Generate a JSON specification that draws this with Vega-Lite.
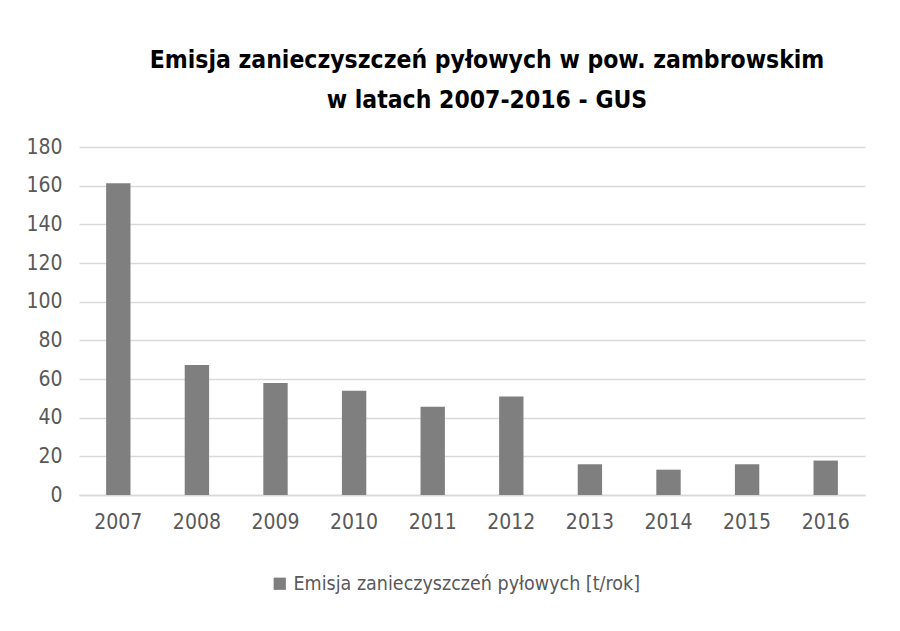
{
  "$schema": "https://vega.github.io/schema/vega-lite/v6.json",
  "autosize": {"type": "none"},
  "width": 786,
  "height": 348,
  "padding": {"left": 79, "top": 147, "right": 35, "bottom": 136},
  "background": "white",
  "title": {
    "text": ["Emisja zanieczyszczeń pyłowych w pow. zambrowskim", "w latach 2007-2016 - GUS"],
    "anchor": "middle",
    "font": "DejaVu Sans Condensed, sans-serif",
    "fontSize": 24.5,
    "fontWeight": "bold",
    "color": "#000000",
    "lineHeight": 40,
    "offset": 23,
    "dx": 15
  },
  "data": {
    "values": [
      {"year": "2007", "value": 161.2},
      {"year": "2008", "value": 67.2},
      {"year": "2009", "value": 57.9},
      {"year": "2010", "value": 53.9},
      {"year": "2011", "value": 45.7},
      {"year": "2012", "value": 50.9},
      {"year": "2013", "value": 15.9},
      {"year": "2014", "value": 13.1},
      {"year": "2015", "value": 15.9},
      {"year": "2016", "value": 17.8}
    ]
  },
  "mark": {"type": "bar"},
  "encoding": {
    "x": {
      "field": "year",
      "type": "ordinal",
      "scale": {"paddingInner": 0.69, "paddingOuter": 0.345},
      "axis": {
        "title": null,
        "labelAngle": 0,
        "ticks": false,
        "domain": true,
        "domainColor": "#d9d9d9",
        "domainWidth": 1.5,
        "labelFont": "DejaVu Sans Condensed, sans-serif",
        "labelFontSize": 21,
        "labelColor": "#595959",
        "labelPadding": 16
      }
    },
    "y": {
      "field": "value",
      "type": "quantitative",
      "scale": {"domain": [0, 180]},
      "axis": {
        "title": null,
        "values": [0, 20, 40, 60, 80, 100, 120, 140, 160, 180],
        "ticks": false,
        "domain": false,
        "gridColor": "#d9d9d9",
        "gridWidth": 1.5,
        "labelFont": "DejaVu Sans Condensed, sans-serif",
        "labelFontSize": 21,
        "labelColor": "#595959",
        "labelPadding": 17
      }
    },
    "color": {
      "datum": "Emisja zanieczyszczeń pyłowych [t/rok]",
      "type": "nominal",
      "scale": {"range": ["#7f7f7f"]},
      "legend": {
        "title": null,
        "orient": "none",
        "legendX": 191,
        "legendY": 427,
        "direction": "horizontal",
        "symbolType": "square",
        "symbolSize": 150,
        "symbolStrokeWidth": 0,
        "labelFont": "DejaVu Sans Condensed, sans-serif",
        "labelFontSize": 19.5,
        "labelColor": "#595959",
        "labelLimit": 500
      }
    }
  },
  "config": {
    "view": {"stroke": null}
  }
}
